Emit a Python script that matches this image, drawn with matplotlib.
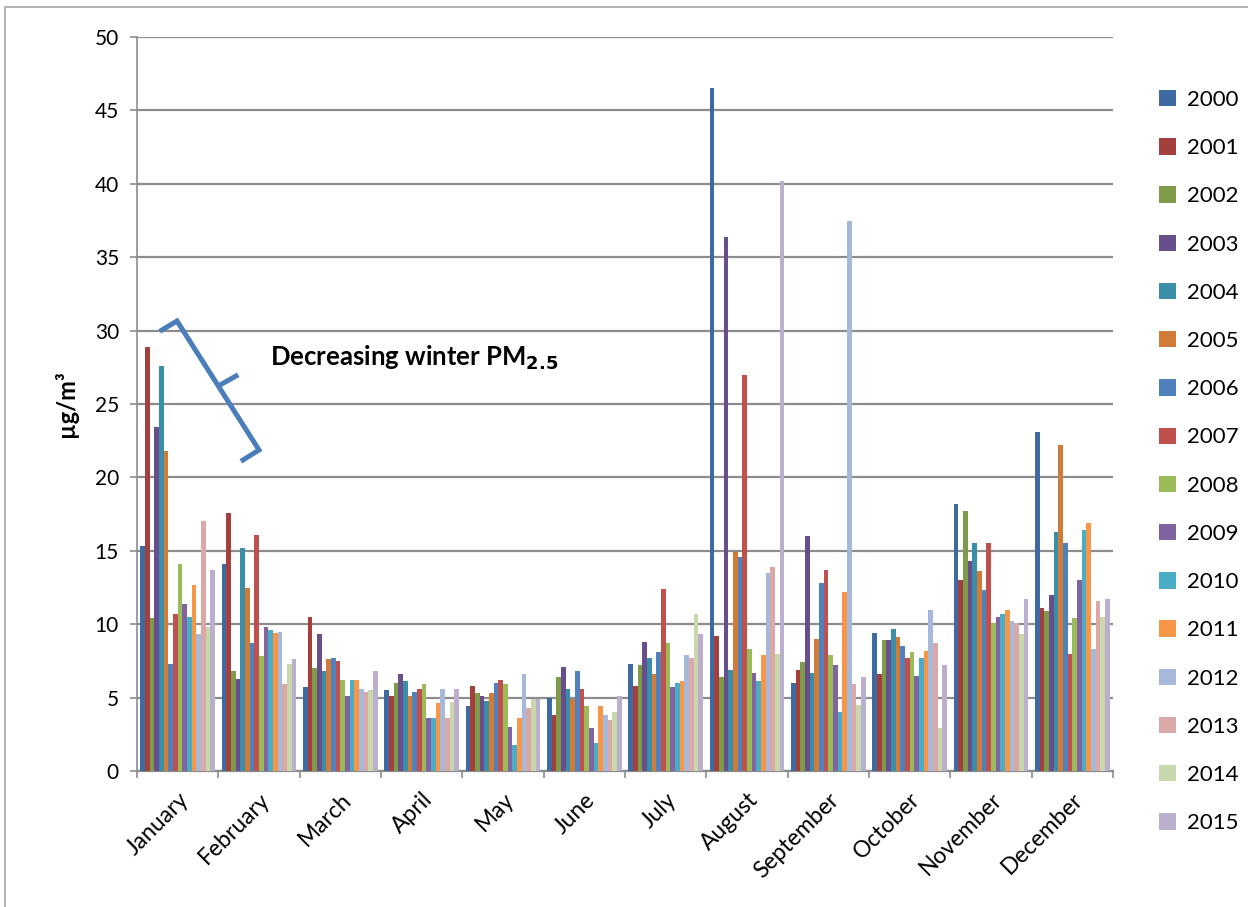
import numpy as np
import matplotlib.pyplot as plt
from matplotlib.lines import Line2D
from matplotlib.patches import Rectangle

plt.rcParams['font.family'] = ['Lato', 'DejaVu Sans']

months = ["January", "February", "March", "April", "May", "June", "July",
          "August", "September", "October", "November", "December"]
years = [str(y) for y in range(2000, 2016)]

# PM2.5 per year, one value per month (Jan..Dec)
v2000 = [15.3, 14.1, 5.7, 5.5, 4.4, 5.0, 7.3, 46.5, 6.0, 9.4, 18.2, 23.1]
v2001 = [28.9, 17.6, 10.5, 5.1, 5.8, 3.8, 5.8, 9.2, 6.9, 6.6, 13.0, 11.1]
v2002 = [10.4, 6.8, 7.0, 6.0, 5.3, 6.4, 7.2, 6.4, 7.4, 8.9, 17.7, 10.9]
v2003 = [23.4, 6.3, 9.3, 6.6, 5.1, 7.1, 8.8, 36.4, 16.0, 8.9, 14.3, 12.0]
v2004 = [27.6, 15.2, 6.8, 6.1, 4.8, 5.6, 7.7, 6.9, 6.7, 9.7, 15.5, 16.3]
v2005 = [21.8, 12.5, 7.6, 5.1, 5.3, 4.9, 6.6, 14.9, 9.0, 9.1, 13.6, 22.2]
v2006 = [7.3, 8.7, 7.7, 5.4, 6.0, 6.8, 8.1, 14.6, 12.8, 8.5, 12.3, 15.5]
v2007 = [10.7, 16.1, 7.5, 5.6, 6.2, 5.6, 12.4, 27.0, 13.7, 7.7, 15.5, 8.0]
v2008 = [14.1, 7.8, 6.2, 5.9, 5.9, 4.4, 8.7, 8.3, 7.9, 8.1, 10.1, 10.4]
v2009 = [11.4, 9.8, 5.1, 3.6, 3.0, 2.9, 5.7, 6.7, 7.2, 6.5, 10.5, 13.0]
v2010 = [10.5, 9.6, 6.2, 3.6, 1.8, 1.9, 6.0, 6.1, 4.0, 7.7, 10.7, 16.4]
v2011 = [12.7, 9.4, 6.2, 4.6, 3.6, 4.4, 6.1, 7.9, 12.2, 8.2, 11.0, 16.9]
v2012 = [9.3, 9.5, 5.6, 5.6, 6.6, 3.8, 7.9, 13.5, 37.5, 11.0, 10.2, 8.3]
v2013 = [17.0, 5.9, 5.4, 3.6, 4.3, 3.5, 7.7, 13.9, 5.9, 8.7, 10.1, 11.6]
v2014 = [9.8, 7.3, 5.5, 4.7, 4.9, 4.0, 10.7, 8.0, 4.5, 2.9, 9.3, 10.5]
v2015 = [13.7, 7.6, 6.8, 5.6, 4.9, 5.1, 9.3, 40.2, 6.4, 7.2, 11.7, 11.7]
series = [v2000, v2001, v2002, v2003, v2004, v2005, v2006, v2007,
          v2008, v2009, v2010, v2011, v2012, v2013, v2014, v2015]

colors = ['#3D6AA1', '#A33F3C', '#7F9A48', '#684F8C', '#3B8EA8', '#D07B37',
          '#4F81BD', '#C0504D', '#9BBB59', '#8064A2', '#4BACC6', '#F79646',
          '#A7B9DA', '#DAA8A7', '#C8D8AC', '#BAB0CD']

W, H = 1248, 907
fig = plt.figure(figsize=(W / 100, H / 100), dpi=100)
ax = fig.add_axes([137 / W, 1 - 771 / H, (1113 - 137) / W, (771 - 37) / H])

x = np.arange(len(months))
n = len(series)
bw = 0.92 / n
handles = []
for i, vals in enumerate(series):
    b = ax.bar(x - 0.46 + bw * (i + 0.5), vals, width=bw, color=colors[i],
               label=years[i], zorder=3, linewidth=0)
    handles.append(b)

ax.set_xlim(-0.5, len(months) - 0.5)
ax.set_ylim(0, 50)
ax.set_yticks(np.arange(0, 51, 5))
ax.tick_params(axis='y', labelsize=15, length=5, color='#8c8c8c', width=1.2, pad=8)
ax.set_xticks(x)
ax.set_xticklabels(months, rotation=45, ha='right', rotation_mode='anchor', fontsize=16.5)
ax.tick_params(axis='x', length=0, pad=13)
ax.set_xticks(np.arange(-0.5, len(months), 1), minor=True)
ax.tick_params(axis='x', which='minor', length=5, color='#8c8c8c', width=1.2)
ax.grid(axis='y', color='#8c8c8c', linewidth=1.6, zorder=0)
ax.set_axisbelow(True)
for s in ['top', 'right']:
    ax.spines[s].set_visible(False)
ax.spines['left'].set_color('#8c8c8c')
ax.spines['bottom'].set_color('#8c8c8c')
ax.spines['left'].set_linewidth(1.2)
ax.spines['bottom'].set_linewidth(1.6)
ax.set_ylabel('µg/m³', fontsize=17, fontweight='bold', labelpad=12)

fig.legend(handles=handles, loc='upper left', bbox_to_anchor=(1150 / W, 1 - 81 / H),
           frameon=False, fontsize=16, handlelength=0.75, handleheight=0.75,
           handletextpad=0.5, labelspacing=1.27, borderaxespad=0)

# bracket annotation (figure pixel coords)
def px(pts):
    return [p[0] / W for p in pts], [1 - p[1] / H for p in pts]

bx, by = px([(162, 330), (177, 321), (259, 450), (243, 460)])
fig.add_artist(Line2D(bx, by, color='#4A7EBB', lw=3.6, solid_joinstyle='miter'))
tx, ty = px([(220, 385), (236, 376)])
fig.add_artist(Line2D(tx, ty, color='#4A7EBB', lw=3.6))
fig.text(270 / W, 1 - 358 / H, r'Decreasing winter PM$_{\mathbf{2.5}}$', fontsize=18.5,
         fontweight='bold', va='center', ha='left')

# outer frame of the chart box
fig.add_artist(Rectangle((5 / W, -0.1), 1.2, 1 - 7 / H + 0.1, fill=False,
                         edgecolor='#a6a6a6', lw=1.2))

fig.savefig('out.png', dpi=100)
